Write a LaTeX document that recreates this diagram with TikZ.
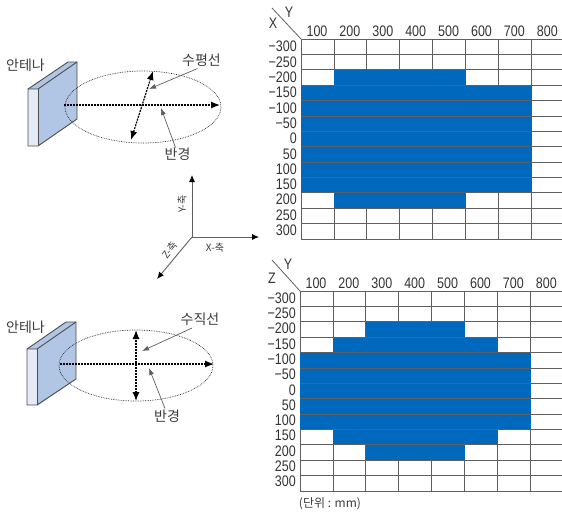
\documentclass[tikz,border=0pt]{standalone}
\usepackage{fontspec}
\usepackage{graphicx}
\setmainfont{Liberation Sans}
\newfontfamily\krfont{Noto Sans CJK KR}
\usetikzlibrary{arrows.meta}
\definecolor{patblue}{RGB}{0,105,190}
\definecolor{gridgray}{RGB}{95,95,95}
\definecolor{panelblue}{RGB}{176,198,228}
\definecolor{panelside}{RGB}{228,234,246}
\definecolor{txtgray}{RGB}{60,60,60}
\newcommand{\tallnum}[1]{\scalebox{1}[1.22]{#1}}
\tikzset{
    beamline/.style={densely dotted,line width=0.7pt,black!85},
    axisline/.style={dash pattern=on 2pt off 1pt,line width=1.2pt,black,{Latex[length=9pt,width=7pt]}-{Latex[length=9pt,width=7pt]}},
    radline/.style={dash pattern=on 2pt off 1pt,line width=1.2pt,black,-{Latex[length=9pt,width=7pt]}},
    callout/.style={line width=0.7pt,gridgray,-{Latex[length=7pt,width=5pt]}},
    xyzaxis/.style={line width=0.9pt,gridgray,-{Latex[length=7pt,width=6pt,black]}},
    gridline/.style={line width=0.8pt,gridgray},
    panelline/.style={line width=0.9pt,black!70},
    lbl/.style={inner sep=0pt,text=txtgray,font=\krfont\fontsize{14}{14}\selectfont},
    small/.style={inner sep=0pt,text=txtgray,font=\krfont\fontsize{10}{10}\selectfont},
    num/.style={inner sep=0pt,text=black!80,font=\fontsize{12.5}{12.5}\selectfont},
    rowlbl/.style={num,anchor=east}
}
\begin{document}
\begin{tikzpicture}[x=1pt,y=-1pt]
\useasboundingbox (0,0) rectangle (562,515);

% upper antenna
\fill[panelblue] (38,89) -- (77,62) -- (77,119) -- (38,146) -- cycle;
\fill[panelblue] (28,89) -- (68,62) -- (77,62) -- (38,89) -- cycle;
\fill[panelside] (28,89) rectangle (38,146);
\draw[panelline] (28,146) -- (28,89) -- (68,62) -- (77,62) -- (77,119) -- (38,146) -- cycle;
\draw[panelline] (28,89) -- (38,89) -- (77,62);
\draw[panelline] (38,89) -- (38,146);
\node[lbl] (ant1) at (25.5,65) {안테나};

% upper ellipse
\draw[beamline] (143,107) ellipse (78 and 36);
\coordinate (c1) at (64,105);
\coordinate (r1) at (220,105);
\coordinate (t1) at (153,71);
\coordinate (b1) at (131,140);
\draw[radline] (c1) -- (r1);
\draw[axisline] (b1) -- (t1);
\node[lbl] (hor) at (201.5,60) {수평선};
\node[lbl] (rad1) at (177.5,154) {반경};
\coordinate (ha) at (149,89);
\coordinate (ra) at (161,108);
\draw[callout] (hor.south) ++(-4,2) -- (ha);
\draw[callout] (rad1.north) ++(-2,0) -- (ra);

% axes
\coordinate (o) at (192,237);
\coordinate (ay) at (192,175);
\coordinate (ax) at (259,237);
\coordinate (az) at (157,279);
\draw[xyzaxis] (o) -- (ay);
\draw[xyzaxis] (o) -- (ax);
\draw[xyzaxis] (o) -- (az);
\node[small,rotate=90] (ylab) at (182,204) {Y-축};
\node[small] (xlab) at (215,248) {X-축};
\node[small,rotate=52] (zlab) at (170,250) {Z-축};

% lower antenna
\fill[panelblue] (37,349) -- (76,322) -- (76,379) -- (37,406) -- cycle;
\fill[panelblue] (27,349) -- (66,322) -- (76,322) -- (37,349) -- cycle;
\fill[panelside] (27,349) rectangle (37,405);
\draw[panelline] (27,405) -- (27,349) -- (66,322) -- (76,322) -- (76,379) -- (37,405) -- cycle;
\draw[panelline] (27,349) -- (37,349) -- (76,322);
\draw[panelline] (37,349) -- (37,405);
\node[lbl] (ant2) at (25.5,327) {안테나};

% lower ellipse
\draw[beamline] (136,365.5) ellipse (77 and 35.5);
\coordinate (c2) at (60,364);
\coordinate (r2) at (214,364);
\coordinate (t2) at (136,330);
\coordinate (b2) at (136,401);
\draw[radline] (c2) -- (r2);
\draw[axisline] (b2) -- (t2);
\node[lbl] (ver) at (200,319.5) {수직선};
\node[lbl] (rad2) at (167,416) {반경};
\coordinate (va) at (142,351);
\coordinate (rb) at (149,368);
\draw[callout] (ver.south) ++(-8,2) -- (va);
\draw[callout] (rad2.north) ++(-2,-1) -- (rb);

% upper table
\foreach \c in {0,...,7} \draw[gridline] (301+32.9*\c,39) -- (301+32.9*\c,239);
\fill[patblue] (334,70) rectangle (465.5,85.4);
\fill[patblue] (301,85.4) rectangle (531.5,193);
\fill[patblue] (334,193) rectangle (465.5,208.4);
\foreach \r in {0,...,13} \draw[gridline] (301,39+15.38*\r) -- (562,39+15.38*\r);
\draw[gridline] (301,39) -- (272,8);
\node[num] (xh) at (273,23) {\tallnum{X}};
\node[num] (yh) at (289,12) {\tallnum{Y}};
\foreach \c [count=\i from 0] in {100,200,...,800}
    \node[num] (ta\c) at (317+32.9*\i,31) {\tallnum{\c}};
\foreach \v [count=\i from 0] in {−300,−250,−200,−150,−100,−50,0,50,100,150,200,250,300}
    \node[rowlbl] (ra\i) at (297,46.7+15.3*\i) {\tallnum{\v}};

% lower table
\foreach \c in {0,...,7} \draw[gridline] (300+32.9*\c,291) -- (300+32.9*\c,491);
\fill[patblue] (366,322) rectangle (465,337);
\fill[patblue] (333,337) rectangle (498,352.5);
\fill[patblue] (300,352.5) rectangle (530.5,429.5);
\fill[patblue] (333,429.5) rectangle (498,445);
\fill[patblue] (366,445) rectangle (465,460);
\foreach \r in {0,...,13} \draw[gridline] (300,291+15.38*\r) -- (562,291+15.38*\r);
\draw[gridline] (300,291) -- (272,260);
\node[num] (zh) at (272,278) {\tallnum{Z}};
\node[num] (yh2) at (288,264) {\tallnum{Y}};
\foreach \c [count=\i from 0] in {100,200,...,800}
    \node[num] (tb\c) at (316+32.9*\i,283) {\tallnum{\c}};
\foreach \v [count=\i from 0] in {−300,−250,−200,−150,−100,−50,0,50,100,150,200,250,300}
    \node[rowlbl] (rb\i) at (296,298+15.3*\i) {\tallnum{\v}};
\node[inner sep=0pt,text=txtgray,font=\krfont\fontsize{12}{12}\selectfont] (unit) at (330,504) {(단위 : mm)};
\end{tikzpicture}
\end{document}
